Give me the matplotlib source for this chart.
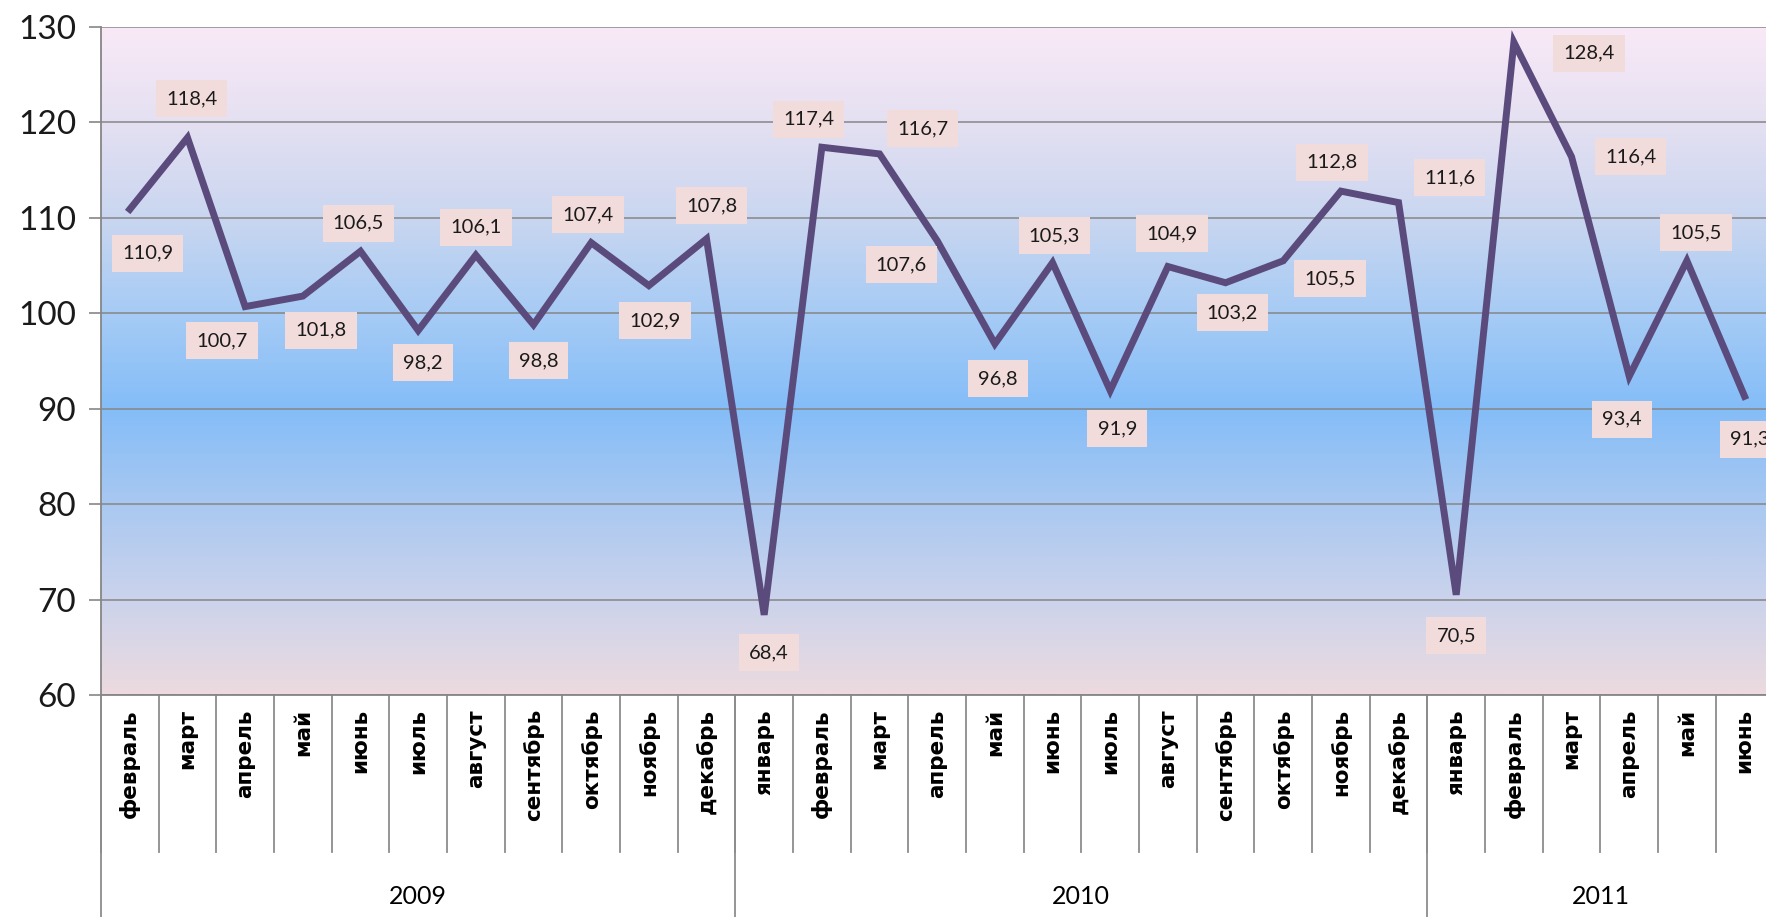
import numpy as np
import matplotlib
matplotlib.use("Agg")
import matplotlib.pyplot as plt
from matplotlib.colors import LinearSegmentedColormap

# data
months = ["февраль", "март", "апрель", "май", "июнь", "июль", "август",
          "сентябрь", "октябрь", "ноябрь", "декабрь",
          "январь", "февраль", "март", "апрель", "май", "июнь", "июль",
          "август", "сентябрь", "октябрь", "ноябрь", "декабрь",
          "январь", "февраль", "март", "апрель", "май", "июнь"]
values = [110.9, 118.4, 100.7, 101.8, 106.5, 98.2, 106.1, 98.8, 107.4, 102.9, 107.8,
          68.4, 117.4, 116.7, 107.6, 96.8, 105.3, 91.9, 104.9, 103.2, 105.5, 112.8, 111.6,
          70.5, 128.4, 116.4, 93.4, 105.5, 91.3]
years = ["2009", "2010", "2011"]
months_per_year = [11, 12, 6]
yticks = [60, 70, 80, 90, 100, 110, 120, 130]

# label offsets in pixels (dx, dy), up is positive
offsets = [(18, -44), (4, 39), (-23, -34), (18, -34), (-2, 28), (5, -32), (0, 28),
           (5, -36), (-3, 28), (6, -35), (5, 33),
           (5, -38), (-13, 28), (43, 25), (-36, -24), (3, -35), (2, 27), (7, -38),
           (4, 33), (7, -30), (47, -18), (-9, 29), (51, 25),
           (0, -41), (75, -11), (59, 0), (-7, -43), (9, 28), (5, -43)]

W, H = 1766, 917
fig = plt.figure(figsize=(W / 100, H / 100), dpi=100)
ax = fig.add_axes([101 / W, 1 - 695 / H, 1672.4 / W, 668 / H])

n = len(values)
x = np.arange(n)
ax.set_xlim(-0.5, n - 0.5)
ax.set_ylim(60, 130)

# background gradient
stops = [(60, "#ecdadf"), (70, "#cbd3ec"), (80, "#a9c8f1"), (90, "#84bdf8"),
         (100, "#a6cbf5"), (110, "#c9d6f0"), (120, "#e4e0f2"), (130, "#f9e9f7")]
cmap = LinearSegmentedColormap.from_list(
    "bg", [((v - 60) / 70, c) for v, c in stops])
grad = np.linspace(60, 130, 400).reshape(-1, 1)
ax.imshow(grad, extent=[-0.5, n - 0.5, 60, 130], origin="lower", aspect="auto",
          cmap=cmap, vmin=60, vmax=130, zorder=0)

for yv in yticks:
    ax.axhline(yv, color="#868686", lw=1.1, zorder=1)

ax.plot(x, values, color="#5b4b7d", lw=5, zorder=3, solid_joinstyle="miter")

for xi, v, (dx, dy) in zip(x, values, offsets):
    ax.annotate(f"{v:.1f}".replace(".", ","), (xi, v), xytext=(dx, dy),
                textcoords="offset pixels", ha="center", va="center",
                fontsize=14.5, family="Lato", color="#1a1a1a", zorder=4,
                annotation_clip=False,
                bbox=dict(boxstyle="square,pad=0.5", fc="#f2dcdb", ec="none"))

ax.set_yticks(yticks)
ax.set_yticklabels([str(t) for t in yticks], family="Lato", fontsize=24,
                   color="#1a1a1a")
ax.tick_params(axis="y", length=9, width=1.2, color="#868686", pad=9)
ax.tick_params(axis="x", bottom=False, labelbottom=False)
for side in ["top", "right"]:
    ax.spines[side].set_visible(False)
for side in ["left", "bottom"]:
    ax.spines[side].set_color("#868686")
    ax.spines[side].set_linewidth(1.3)

# category axis below the plot
trans = ax.get_xaxis_transform()
for k in range(n + 1):
    ax.plot([k - 0.5, k - 0.5], [0, -0.235], color="#8c8c8c", lw=1.3,
            transform=trans, clip_on=False)
for xi, m in zip(x, months):
    ax.text(xi, -0.021, m, rotation=90, ha="center", va="top", transform=trans,
            fontsize=15.5, fontweight="bold", family="DejaVu Sans")

start = 0
for yr, cnt in zip(years, months_per_year):
    ax.plot([start - 0.5, start - 0.5], [0, -0.5], color="#8c8c8c", lw=1.3,
            transform=trans, clip_on=False)
    ax.text(start - 0.5 + cnt / 2, -0.284, yr, ha="center", va="top",
            transform=trans, fontsize=18, family="Lato")
    start += cnt

fig.savefig("out.png", dpi=100)
